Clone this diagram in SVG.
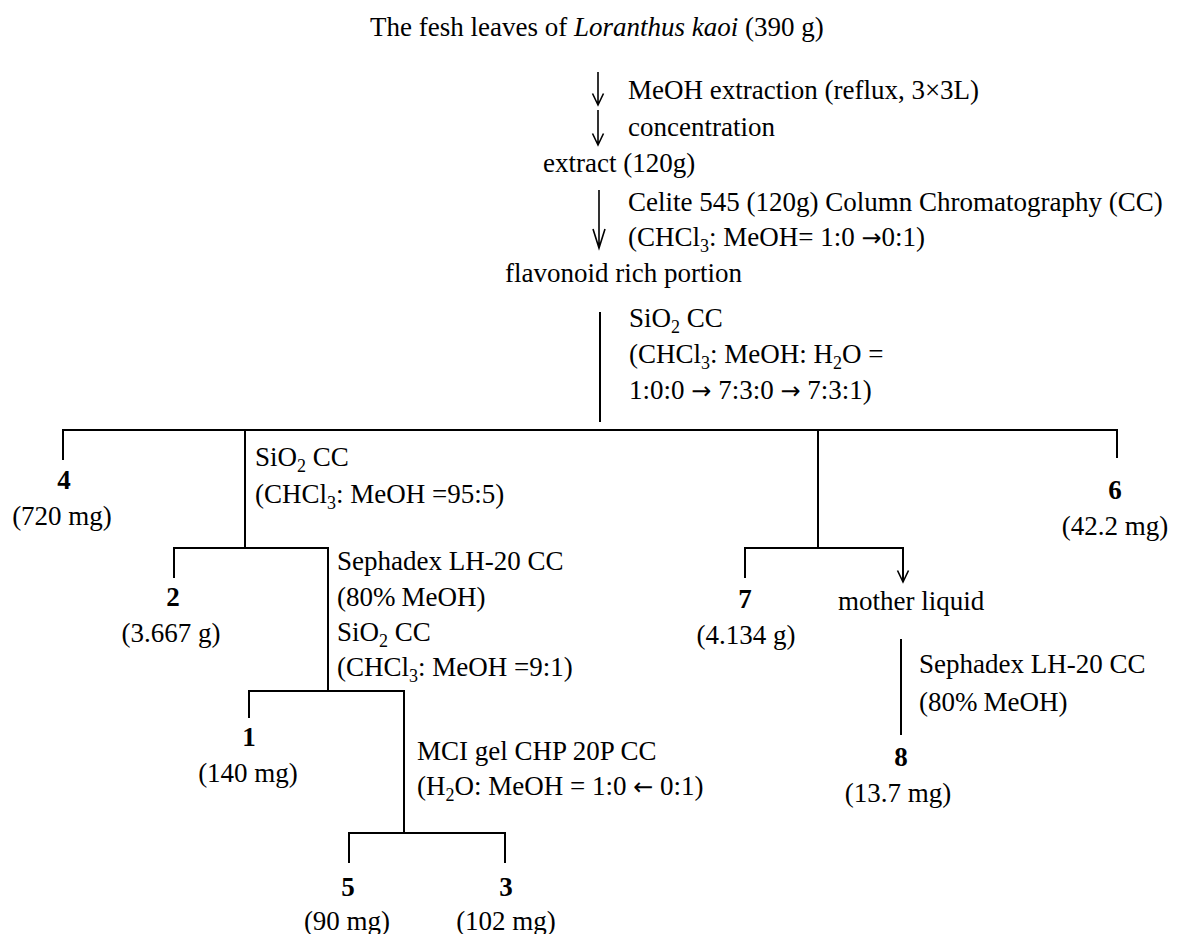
<svg xmlns="http://www.w3.org/2000/svg" width="1192" height="934" viewBox="0 0 1192 934">
<style>
text{font-family:"Liberation Serif","Times New Roman",serif;font-size:27px;fill:#000}
.c{text-anchor:middle}
.b{font-weight:bold}
.sub{font-size:18px}
.ar{font-family:"DejaVu Sans",sans-serif;font-size:24px}
.ln{stroke:#000;stroke-width:2;fill:none}
.th{stroke:#000;stroke-width:1.6;fill:none}
</style>
<rect width="1192" height="934" fill="#fff"/>
<g id="connectors">
<path class="th" d="M598 72V105M592.5 93.5L598 105L603.5 93.5"/>
<path class="th" d="M598 110V145M592.5 133.5L598 145L603.5 133.5"/>
<path class="th" d="M599 190V248M593 229L599 248L605 229"/>
<path class="ln" d="M600 312V422"/>
<path class="ln" d="M63 460V430H1117V458"/>
<path class="ln" d="M245 430V548"/>
<path class="ln" d="M174 578V548H328V691"/>
<path class="ln" d="M249 718V691H404V833"/>
<path class="ln" d="M349 863V833H505V863"/>
<path class="ln" d="M818 430V548"/>
<path class="ln" d="M745 578V548H903V582"/>
<path class="th" d="M897.5 570.5L903 582L908.5 570.5"/>
<path class="ln" d="M901 639V735"/>
</g>
<g id="n-start"><text x="370" y="36">The fesh leaves of <tspan font-style="italic">Loranthus kaoi</tspan> (390 g)</text></g>
<g id="n-step1"><text x="628" y="99">MeOH extraction (reflux, 3×3L)</text><text x="628" y="136">concentration</text></g>
<g id="n-extract"><text x="543" y="172">extract (120g)</text></g>
<g id="n-step2"><text x="628" y="211">Celite 545 (120g) Column Chromatography (CC)</text><text x="628" y="246">(CHCl<tspan class="sub" dy="6">3</tspan><tspan dy="-6">: MeOH= 1:0 </tspan><tspan class="ar">→</tspan>0:1)</text></g>
<g id="n-flav"><text x="505" y="282">flavonoid rich portion</text></g>
<g id="n-step3"><text x="629" y="327">SiO<tspan class="sub" dy="6">2</tspan><tspan dy="-6"> CC</tspan></text><text x="629" y="363">(CHCl<tspan class="sub" dy="6">3</tspan><tspan dy="-6">: MeOH: H</tspan><tspan class="sub" dy="6">2</tspan><tspan dy="-6">O =</tspan></text><text x="629" y="399">1:0:0 <tspan class="ar">→</tspan> 7:3:0 <tspan class="ar">→</tspan> 7:3:1)</text></g>
<g id="n-4"><text class="c b" x="64" y="489">4</text><text class="c" x="62" y="525">(720 mg)</text></g>
<g id="n-step4"><text x="255" y="466">SiO<tspan class="sub" dy="6">2</tspan><tspan dy="-6"> CC</tspan></text><text x="255" y="503">(CHCl<tspan class="sub" dy="6">3</tspan><tspan dy="-6">: MeOH =95:5)</tspan></text></g>
<g id="n-2"><text class="c b" x="173" y="606">2</text><text class="c" x="171" y="642">(3.667 g)</text></g>
<g id="n-step5"><text x="337" y="570">Sephadex LH-20 CC</text><text x="337" y="606">(80%<tspan dx="6">MeOH)</tspan></text><text x="337" y="641">SiO<tspan class="sub" dy="6">2</tspan><tspan dy="-6"> CC</tspan></text><text x="337" y="676">(CHCl<tspan class="sub" dy="6">3</tspan><tspan dy="-6">: MeOH =9:1)</tspan></text></g>
<g id="n-1"><text class="c b" x="249" y="746">1</text><text class="c" x="248" y="782">(140 mg)</text></g>
<g id="n-step6"><text x="417" y="760">MCI gel CHP 20P CC</text><text x="417" y="795">(H<tspan class="sub" dy="6">2</tspan><tspan dy="-6">O: MeOH = 1:0 </tspan><tspan class="ar">←</tspan> 0:1)</text></g>
<g id="n-5"><text class="c b" x="348" y="896">5</text><text class="c" x="347" y="930">(90 mg)</text></g>
<g id="n-3"><text class="c b" x="506" y="896">3</text><text class="c" x="506" y="930">(102 mg)</text></g>
<g id="n-7"><text class="c b" x="745" y="608">7</text><text class="c" x="746" y="644">(4.134 g)</text></g>
<g id="n-mother"><text x="838" y="610">mother liquid</text></g>
<g id="n-step7"><text x="919" y="673">Sephadex LH-20 CC</text><text x="919" y="711">(80%<tspan dx="6">MeOH)</tspan></text></g>
<g id="n-8"><text class="c b" x="901" y="766">8</text><text class="c" x="898" y="802">(13.7 mg)</text></g>
<g id="n-6"><text class="c b" x="1115" y="499">6</text><text class="c" x="1115" y="535">(42.2 mg)</text></g>
</svg>
